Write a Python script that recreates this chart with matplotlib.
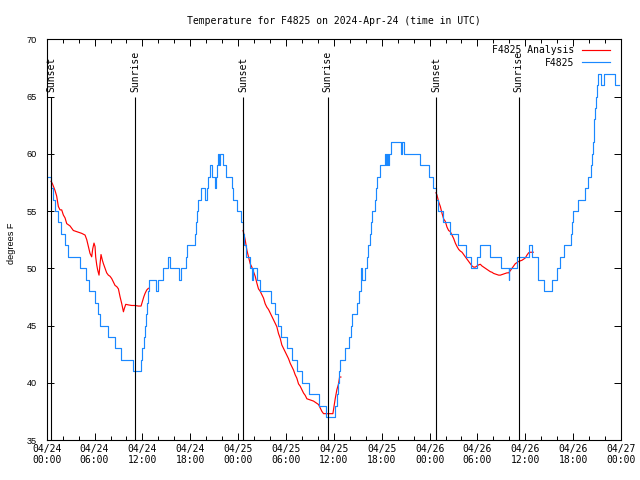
import numpy as np
import matplotlib
matplotlib.use("Agg")
import matplotlib.pyplot as plt
from matplotlib.ticker import MultipleLocator

# ---------------- data ----------------
# hours since 2024-04-24 00:00 UTC
blue_hours = [0, 0.54, 0.83, 1.04, 1.38, 1.79, 2.3, 2.71, 4.18, 4.9, 5.3, 6.0, 6.4, 6.73, 7.73, 8.57,
              9.32, 10.79, 11.79, 11.9, 12.17, 12.33, 12.5, 12.6, 12.67, 12.8,
              13.75, 13.95, 14.55, 15.26, 15.5, 16.55, 16.8, 17.44, 17.6, 18.58, 18.72, 18.85, 19.0,
              19.4, 19.85, 20.12, 20.25, 20.45, 20.75, 21.05, 21.2, 21.35, 21.5, 21.6, 21.75, 22.15,
              22.5, 23.25, 23.4, 23.9, 24.35, 24.6, 24.75, 25.0, 25.5, 25.8, 25.9, 26.35, 26.8,
              28.15, 28.6, 29.0, 29.4, 30.15, 30.8, 31.35, 31.95, 32.9, 34.15, 35.0, 36.12, 36.35,
              36.55, 36.7, 36.8, 37.35, 37.95, 38.1, 38.3, 38.9, 39.15, 39.35, 39.43, 39.55, 39.9,
              40.1, 40.3, 40.5, 40.65, 40.8, 41.1, 41.3, 41.42, 41.8, 42.4, 42.5, 42.65, 42.75,
              42.87, 43.2, 44.4, 44.5, 44.85, 46.85, 47.9, 48.4, 48.85, 49.1, 49.68, 50.6, 51.6,
              52.55, 53.15, 54.0, 54.3, 55.55, 56.9, 57.92, 58.0, 58.95, 60.45, 60.85, 61.58,
              61.63, 62.3, 63.4, 63.95, 64.4, 64.85, 65.7, 65.85, 65.97, 66.65, 67.45, 67.9, 68.25,
              68.42, 68.47, 68.6, 68.67, 68.78, 68.9, 69.0, 69.13, 69.45, 69.85, 71.3, 71.75]
blue_temps = [58, 57, 56, 55, 54, 53, 52, 51, 50, 49, 48, 47, 46, 45, 44, 43,
              42, 41, 42, 43, 44, 45, 46, 47, 48, 49,
              48, 49, 50, 51, 50, 49, 50, 51, 52, 53, 54, 55, 56,
              57, 56, 57, 58, 59, 58, 57, 58, 59, 60, 59, 60, 59,
              58, 57, 56, 55, 54, 53, 52, 51, 50, 49, 50, 49, 48,
              47, 46, 45, 44, 43, 42, 41, 40, 39, 38, 37, 38, 39,
              40, 41, 42, 43, 44, 45, 46, 47, 48, 49, 50, 49, 50,
              51, 52, 53, 54, 55, 56, 57, 58, 59, 60, 59, 60, 59,
              60, 61, 60, 61, 60, 59, 58, 57, 56, 55, 54, 53, 52,
              51, 50, 51, 52, 51, 50, 49, 50, 51, 52, 51, 50,
              49, 48, 49, 50, 51, 52, 53, 54, 55, 56, 57, 58, 59,
              60, 61, 62, 63, 64, 65, 66, 67, 66, 67, 66, 66]

red1_hours = [0.54, 0.71, 1.04, 1.25, 1.46, 1.67, 1.88, 2.09, 2.3, 2.51, 2.71, 2.92, 3.13, 3.34,
              3.55, 3.97, 4.39, 4.81, 5.02, 5.22, 5.43, 5.64, 5.77, 5.93, 6.06, 6.14, 6.27, 6.39,
              6.56, 6.69, 6.81, 6.98, 7.11, 7.31, 7.52, 7.73, 7.94, 8.15, 8.36, 8.57, 8.78, 8.99,
              9.2, 9.41, 9.62, 9.74, 9.91, 10.24, 10.66, 11.08, 11.5, 11.83, 12.0, 12.17, 12.33,
              12.54, 12.75]
red1_temps = [57.6, 57.4, 56.8, 56.3, 55.4, 55.1, 55.1, 54.65, 54.4, 53.9, 53.8, 53.7, 53.5, 53.3,
              53.25, 53.15, 53.05, 52.9, 52.5, 51.9, 51.3, 51.0, 51.7, 52.2, 51.9, 51.0, 50.3, 49.85,
              49.4, 50.4, 51.2, 50.7, 50.4, 50.0, 49.6, 49.4, 49.3, 49.1, 48.8, 48.5, 48.4, 48.2,
              47.5, 46.9, 46.2, 46.5, 46.85, 46.8, 46.75, 46.75, 46.7, 46.7, 47.1, 47.5, 47.8,
              48.1, 48.25]
red2_hours = [24.62, 24.88, 25.09, 25.3, 25.51, 25.72, 25.93, 26.14, 26.35, 26.55, 26.76, 26.97,
              27.18, 27.39, 27.6, 27.81, 28.02, 28.23, 28.44, 28.65, 28.85, 29.06, 29.27, 29.48,
              29.69, 29.9, 30.11, 30.32, 30.53, 30.74, 30.95, 31.15, 31.36, 31.57, 31.78, 31.99,
              32.2, 32.41, 32.62, 33.03, 33.45, 33.87, 34.08, 34.29, 34.5, 34.71, 35.88, 36.05,
              36.17, 36.38, 36.59, 36.72, 36.88]
red2_temps = [53.3, 52.5, 51.6, 51.0, 50.4, 50.1, 49.7, 49.3, 48.7, 48.2, 48.0, 47.7,
              47.4, 46.9, 46.6, 46.4, 46.1, 45.8, 45.5, 45.2, 44.9, 44.3, 43.9, 43.3,
              43.0, 42.7, 42.4, 42.1, 41.7, 41.4, 41.1, 40.7, 40.4, 39.9, 39.7, 39.4,
              39.1, 38.9, 38.6, 38.5, 38.4, 38.2, 38.1, 37.8, 37.5, 37.3, 37.3, 38.1,
              38.6, 39.4, 39.9, 40.5, 40.5]
red3_hours = [48.8, 48.93, 49.14, 49.35, 49.56, 49.77, 49.97, 50.18, 50.39, 50.6, 50.81, 51.02,
              51.23, 51.44, 51.65, 51.86, 52.07, 52.27, 52.48, 52.69, 52.9, 53.11, 53.32, 53.53,
              53.74, 53.95, 54.15, 54.36, 54.57, 54.78, 54.99, 55.2, 55.41, 55.62, 55.83, 56.03,
              56.24, 56.45, 56.66, 56.87, 57.08, 57.29, 57.5, 57.71, 57.92, 58.13, 58.33, 58.54,
              58.75, 58.96, 59.17, 59.38, 59.59, 59.8, 60.0, 60.21, 60.42, 60.55, 61.0]
red3_temps = [56.6, 56.4, 55.8, 55.4, 54.8, 54.3, 54.1, 53.6, 53.3, 53.2, 52.9, 52.6,
              52.2, 51.9, 51.65, 51.5, 51.4, 51.2, 51.0, 50.8, 50.6, 50.4, 50.2, 50.1,
              50.1, 50.2, 50.3, 50.35, 50.2, 50.1, 50.0, 49.9, 49.8, 49.7, 49.65, 49.55,
              49.5, 49.45, 49.4, 49.4, 49.45, 49.5, 49.55, 49.6, 49.6, 49.8, 50.0, 50.2,
              50.4, 50.5, 50.6, 50.65, 50.7, 50.8, 50.9, 51.15, 51.35, 51.4, 51.4]

event_hours = [0.54, 11.08, 24.67, 35.21, 48.8, 59.17]
event_labels = ["Sunset", "Sunrise", "Sunset", "Sunrise", "Sunset", "Sunrise"]

xtick_hours = list(range(0, 73, 6))
xtick_labels = ["04/24\n00:00", "04/24\n06:00", "04/24\n12:00", "04/24\n18:00",
                "04/25\n00:00", "04/25\n06:00", "04/25\n12:00", "04/25\n18:00",
                "04/26\n00:00", "04/26\n06:00", "04/26\n12:00", "04/26\n18:00",
                "04/27\n00:00"]
ytick_values = [35, 40, 45, 50, 55, 60, 65, 70]

title = "Temperature for F4825 on 2024-Apr-24 (time in UTC)"
ylabel = "degrees F"
series_labels = ["F4825 Analysis", "F4825"]

# ---------------- plot ----------------
MONO = "DejaVu Sans Mono"
SANS = "Liberation Sans"
BLUE = "#1a88ff"
RED = "#ff0000"

fig = plt.figure(figsize=(6.4, 4.8), dpi=100)
ax = fig.add_axes([46.7 / 640, 40 / 480, 574.3 / 640, 400.7 / 480])

red_h = red1_hours + [np.nan] + red2_hours + [np.nan] + red3_hours
red_t = red1_temps + [np.nan] + red2_temps + [np.nan] + red3_temps
ax.plot(red_h, red_t, color=RED, lw=0.85, label=series_labels[0])
ax.plot(blue_hours, blue_temps, color=BLUE, lw=0.85, drawstyle="steps-post",
        label=series_labels[1])

ax.vlines(event_hours, 35, 65, color="black", lw=0.8)
for h, lab in zip(event_hours, event_labels):
    ax.text(h, 65.4, lab, rotation=90, ha="center", va="bottom",
            fontsize=7, family=MONO)

ax.set_xlim(0, 72)
ax.set_ylim(35, 70)
ax.set_xticks(xtick_hours)
ax.set_xticklabels(xtick_labels, family=MONO, fontsize=7, linespacing=1.1)
ax.xaxis.set_minor_locator(MultipleLocator(2))
ax.set_yticks(ytick_values)
ax.set_yticklabels([str(v) for v in ytick_values], family=SANS, fontsize=6.6)

ax.tick_params(which="both", direction="in", top=True, right=True, width=0.7, color="black")
ax.tick_params(which="major", length=5)
ax.tick_params(which="minor", length=3)
ax.tick_params(axis="x", which="major", pad=3)
ax.tick_params(axis="y", which="major", pad=7)
for s in ax.spines.values():
    s.set_linewidth(0.8)
    s.set_color("black")

ax.set_title(title, family=MONO, fontsize=7, pad=11)
ax.set_ylabel(ylabel, family=SANS, fontsize=6.6)
ax.yaxis.set_label_coords(-0.062, 0.49)
ax.yaxis.label.set_va("center")

leg = ax.legend(loc="upper right", bbox_to_anchor=(0.981, 0.985), frameon=False,
                markerfirst=False, prop={"family": MONO, "size": 7},
                handlelength=2.9, handletextpad=0.8, labelspacing=0.25,
                borderpad=0, borderaxespad=0)

fig.savefig("out.png", dpi=100)
